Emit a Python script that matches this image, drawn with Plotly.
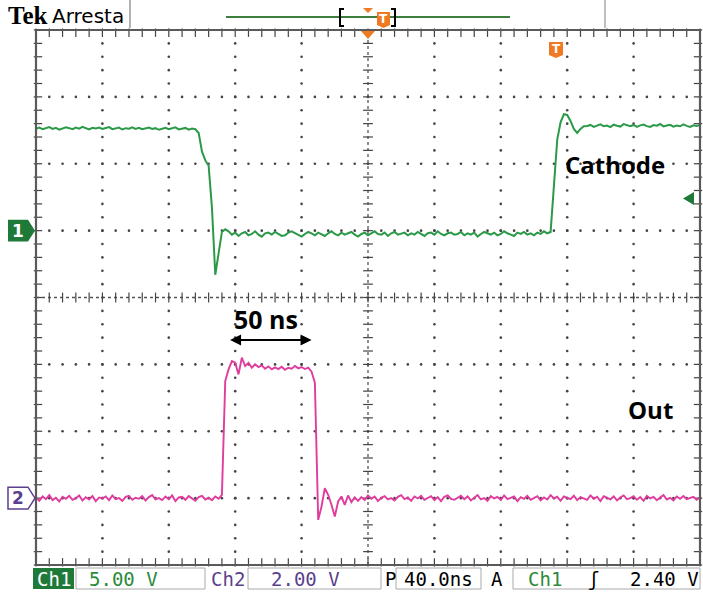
import plotly.graph_objects as go

# ---------------- acquisition settings ----------------
time_per_div_ns = 40.0
n_hdiv, n_vdiv = 10, 8
ch1_volts_per_div = 5.0
ch2_volts_per_div = 2.0
ch1_offset_div = 1.0
ch2_offset_div = -3.0
trigger_level_v = 2.40
sample_step_ns = 2.0
t_start_ns = -200.0

# ---------------- captured waveforms (volts) ----------------
# Ch1: cathode voltage
cathode_v = [
    7.62, 7.70, 7.58, 7.66, 7.74, 7.60, 7.68, 7.55, 7.64, 7.72,
    7.66, 7.58, 7.70, 7.62, 7.76, 7.64, 7.57, 7.69, 7.63, 7.71,
    7.60, 7.67, 7.74, 7.59, 7.65, 7.70, 7.56, 7.66, 7.62, 7.73,
    7.61, 7.68, 7.58, 7.64, 7.71, 7.60, 7.66, 7.54, 7.63, 7.69,
    7.58, 7.65, 7.72, 7.57, 7.62, 7.68, 7.55, 7.64, 7.58,
    7.30, 5.90, 5.25, 4.85, 1.70, -3.30, -1.60, -0.10, 0.10,
    -0.05, -0.30, -0.15, -0.40, -0.20, -0.10, -0.35, -0.25, -0.05, -0.30,
    -0.45, -0.20, -0.15, -0.30, -0.10, -0.25, -0.40, -0.35, -0.15, -0.05,
    -0.20, -0.30, -0.45, -0.25, -0.10, -0.20, -0.35, -0.15, -0.30, -0.40,
    -0.20, -0.05, -0.25, -0.35, -0.15, -0.30, -0.20, -0.10, -0.30, -0.45,
    -0.25, -0.15, -0.35, -0.20, -0.05, -0.25, -0.30, -0.15, -0.40, -0.20,
    -0.10, -0.30, -0.25, -0.15, -0.35, -0.20, -0.30, -0.10, -0.25, -0.40,
    -0.20, -0.15, -0.30, -0.05, -0.25, -0.35, -0.20, -0.15, -0.30, -0.25,
    -0.10, -0.35, -0.20, -0.30, -0.15, -0.45, -0.25, -0.10, -0.20, -0.30,
    -0.15, -0.35, -0.25, -0.05, -0.20, -0.30, -0.40, -0.15, -0.25, -0.10,
    -0.30, -0.20, -0.35, -0.15, -0.25, -0.05, -0.20, -0.10,
    3.40, 6.80, 8.10, 8.70, 8.65, 8.20, 7.60, 7.30, 7.60, 7.80,
    7.82, 7.90, 7.76, 7.88, 7.95, 7.80, 7.86, 7.74, 7.92, 7.84,
    7.78, 7.96, 7.85, 7.80, 7.90, 7.76, 7.87, 7.93, 7.81, 7.75,
    7.89, 7.84, 7.97, 7.79, 7.86, 7.91, 7.77, 7.85, 7.80, 7.94,
    7.83, 7.76, 7.88, 7.82, 7.90,
]

# Ch2: output pulse
out_v = [
    0.02, -0.08, 0.05, -0.03, 0.09, -0.06, 0.01, -0.10, 0.04, -0.02,
    0.07, -0.05, 0.00, 0.08, -0.07, 0.03, -0.04, 0.06, -0.09, 0.02,
    -0.01, 0.05, -0.06, 0.08, -0.03, 0.00, -0.08, 0.04, 0.07, -0.05,
    0.01, -0.02, 0.06, -0.07, 0.03, 0.09, -0.04, 0.00, -0.06, 0.05,
    -0.03, 0.08, -0.09, 0.02, 0.04, -0.05, 0.06, -0.01, -0.08, 0.03,
    0.07, -0.04, 0.01, -0.06, 0.05, -0.02,
    0.10, 3.50, 3.85, 4.10, 4.05, 3.70, 4.20, 3.95, 4.05, 3.90,
    4.00, 3.92, 3.97, 3.87, 3.94, 3.85, 3.91, 3.86, 3.93, 3.84,
    3.90, 3.87, 3.95, 3.88, 3.92, 3.86, 3.90, 3.78, 3.45, -0.65,
    -0.25, 0.30, 0.10, -0.20, -0.55, -0.10, 0.05, -0.20, 0.08, -0.12,
    0.02, -0.08,
    0.03, -0.06, 0.08, -0.02, 0.05, -0.09, 0.01, 0.06, -0.04, 0.00,
    -0.07, 0.04, 0.09, -0.03, 0.02, -0.08, 0.05, -0.01, 0.07, -0.05,
    0.00, 0.06, -0.06, 0.03, -0.09, 0.04, 0.08, -0.02, -0.05, 0.01,
    0.07, -0.03, 0.05, -0.07, 0.02, 0.09, -0.04, 0.00, -0.08, 0.06,
    -0.01, 0.04, -0.06, 0.08, -0.03, 0.01, 0.05, -0.09, 0.03, -0.02,
    0.07, -0.05, 0.00, 0.06, -0.07, 0.02, -0.04, 0.09, -0.01, 0.04,
    -0.08, 0.05, 0.01, -0.03, 0.07, -0.06, 0.03, 0.00, -0.05, 0.08,
    -0.02, 0.04, -0.09, 0.06, 0.01, -0.04, 0.05, -0.07, 0.02, 0.08,
    -0.03, 0.00, 0.06, -0.05, 0.03, -0.08, 0.07, -0.01, 0.04, -0.06,
    0.02, 0.09, -0.04, 0.01, -0.07, 0.05, -0.02, 0.06, -0.03, 0.00,
    0.04, -0.05, 0.02,
]

# annotation values
pulse_width_ns = 50.0
pulse_label_center_ns = -59.0
trace_labels = ["Cathode", "Out"]
status_texts = ["Ch1", "5.00 V", "Ch2", "2.00 V", "P", "40.0ns", "A", "Ch1", "ʃ", "2.40 V"]

assert len(cathode_v) == len(out_v)
t_ns = [t_start_ns + sample_step_ns * i for i in range(len(cathode_v))]

# ---------------- canvas geometry ----------------
W, H = 703, 594
L, R, T, B = 36, 3, 30, 29
PW, PH = W - L - R, H - T - B
x_half = n_hdiv / 2 * time_per_div_ns
y_half = n_vdiv / 2


def PX(px):
    return (px - L) / PW


def PY(py):
    return (H - B - py) / PH


def div_to_py(d):
    return T + (y_half - d) * PH / n_vdiv


def path(points):
    pts = ["%s%.5f,%.5f" % ("M" if i == 0 else "L", PX(x), PY(y)) for i, (x, y) in enumerate(points)]
    return " ".join(pts) + " Z"


GREEN = "#2b9a48"
DKGREEN = "#1f7a3a"
PINK = "#e03c9e"
PURPLE = "#5b3f8f"
ORANGE = "#f07a22"
GRID = "#444444"

fig = go.Figure()

# ---------------- graticule ----------------
minor_t = [-x_half + 8 * i for i in range(int(2 * x_half / 8) + 1)]
minor_d = [round(-y_half + 0.2 * i, 3) for i in range(int(2 * y_half / 0.2) + 1)]
major_t = [-x_half + time_per_div_ns * k for k in range(1, n_hdiv) if k != n_hdiv // 2]
major_d = [-y_half + k for k in range(1, n_vdiv) if k != n_vdiv // 2]

gx, gy = [], []
for xm in major_t:
    for d in minor_d:
        gx.append(xm); gy.append(d)
for dm in major_d:
    for tm in minor_t:
        gx.append(tm); gy.append(dm)
fig.add_trace(go.Scatter(x=gx, y=gy, mode="markers", hoverinfo="skip", cliponaxis=False,
                         marker=dict(size=2.6, color=GRID)))

# centre cross (dense dotted lines with minor ticks)
fig.add_trace(go.Scatter(x=[-x_half, x_half], y=[0, 0], mode="lines", hoverinfo="skip",
                         line=dict(color="#555", width=1.3, dash="dot")))
fig.add_trace(go.Scatter(x=[0, 0], y=[-y_half, y_half], mode="lines", hoverinfo="skip",
                         line=dict(color="#555", width=1.3, dash="dot")))
fig.add_trace(go.Scatter(x=minor_t, y=[0] * len(minor_t), mode="markers", hoverinfo="skip", cliponaxis=False,
                         marker=dict(symbol="line-ns", size=7, line=dict(width=1.2, color=GRID))))
fig.add_trace(go.Scatter(x=[0] * len(minor_d), y=minor_d, mode="markers", hoverinfo="skip", cliponaxis=False,
                         marker=dict(symbol="line-ew", size=7, line=dict(width=1.2, color=GRID))))

# border ticks pointing inward
bt = 0.04
bx = 1.2
fig.add_trace(go.Scatter(x=minor_t + minor_t, y=[y_half - bt] * len(minor_t) + [-y_half + bt] * len(minor_t),
                         mode="markers", hoverinfo="skip", cliponaxis=False,
                         marker=dict(symbol="line-ns", size=6, line=dict(width=1.2, color=GRID))))
fig.add_trace(go.Scatter(x=[-x_half + bx] * len(minor_d) + [x_half - bx] * len(minor_d), y=minor_d + minor_d,
                         mode="markers", hoverinfo="skip", cliponaxis=False,
                         marker=dict(symbol="line-ew", size=6, line=dict(width=1.2, color=GRID))))

# ---------------- waveforms ----------------
ch1_div = [ch1_offset_div + v / ch1_volts_per_div for v in cathode_v]
ch2_div = [ch2_offset_div + v / ch2_volts_per_div for v in out_v]
fig.add_trace(go.Scatter(x=t_ns, y=ch1_div, mode="lines", hoverinfo="skip",
                         line=dict(color=GREEN, width=2)))
fig.add_trace(go.Scatter(x=t_ns, y=ch2_div, mode="lines", hoverinfo="skip",
                         line=dict(color=PINK, width=1.9)))

shapes = []
ann = []

# border
shapes.append(dict(type="rect", xref="paper", yref="paper", x0=0, x1=1, y0=0, y1=1,
                   line=dict(color="#5a5a5a", width=2.2), layer="above"))


def text(s, px, py, size, color, family="DejaVu Sans", xanchor="center", bold=False):
    ann.append(dict(text=("<b>%s</b>" % s) if bold else s, x=PX(px), y=PY(py), xref="paper", yref="paper",
                    showarrow=False, xanchor=xanchor, yanchor="middle",
                    font=dict(size=size, color=color, family=family)))


def t_marker(x0, x1, y0, y1):
    shapes.append(dict(type="path", xref="paper", yref="paper", fillcolor=ORANGE, line=dict(width=0),
                       path=path([(x0, y0), (x1, y0), (x1, y1 - 3), ((x0 + x1) / 2, y1), (x0, y1 - 3)])))
    text("T", (x0 + x1) / 2, y0 + (y1 - y0) * 0.45, 12, "white", "DejaVu Sans", bold=True)


# channel ground markers
c1 = div_to_py(ch1_offset_div)
shapes.append(dict(type="path", xref="paper", yref="paper", fillcolor=DKGREEN, line=dict(width=0),
                   path=path([(8, c1 - 11), (28, c1 - 11), (35, c1), (28, c1 + 11), (8, c1 + 11)])))
text("1", 17.5, c1, 17, "white", "DejaVu Sans", bold=True)

c2 = div_to_py(ch2_offset_div)
shapes.append(dict(type="path", xref="paper", yref="paper", fillcolor="white", line=dict(width=1.5, color=PURPLE),
                   path=path([(8, c2 - 11), (28, c2 - 11), (35, c2), (28, c2 + 11), (8, c2 + 11)])))
text("2", 17.5, c2, 17, PURPLE, "DejaVu Sans", bold=True)

# trigger level marker on the right edge
cy = div_to_py(ch1_offset_div + trigger_level_v / ch1_volts_per_div)
shapes.append(dict(type="path", xref="paper", yref="paper", fillcolor=DKGREEN, line=dict(width=0),
                   path=path([(683, cy), (694, cy - 6.5), (694, cy + 6.5)])))

# trigger position marker on the top edge and T marker
shapes.append(dict(type="path", xref="paper", yref="paper", fillcolor=ORANGE, line=dict(width=0),
                   path=path([(361, 31), (375, 31), (368, 39)])))
t_marker(549, 563, 42, 58)

# ---------------- header ----------------
text("Tek", 6, 16, 25, "black", "Liberation Serif", xanchor="left", bold=True)
text("Arresta", 50, 16, 20, "black", "DejaVu Sans", xanchor="left")
shapes.append(dict(type="line", xref="paper", yref="paper", x0=PX(130), x1=PX(130), y0=PY(0), y1=PY(28),
                   line=dict(color="#999", width=1.5)))
shapes.append(dict(type="line", xref="paper", yref="paper", x0=PX(605), x1=PX(605), y0=PY(0), y1=PY(28),
                   line=dict(color="#aaa", width=1.5)))
shapes.append(dict(type="line", xref="paper", yref="paper", x0=PX(226), x1=PX(510), y0=PY(17), y1=PY(17),
                   line=dict(color="#3d7f3d", width=2)))
for bxp, dx in ((340, 4), (395, -4)):
    shapes.append(dict(type="path", xref="paper", yref="paper", line=dict(color="black", width=2),
                       path="M%.5f,%.5f L%.5f,%.5f L%.5f,%.5f L%.5f,%.5f" % (
                           PX(bxp + dx), PY(9), PX(bxp), PY(9), PX(bxp), PY(26), PX(bxp + dx), PY(26))))
shapes.append(dict(type="path", xref="paper", yref="paper", fillcolor=ORANGE, line=dict(width=0),
                   path=path([(363, 8), (373, 8), (368, 13)])))
t_marker(377, 390, 12, 28)

# ---------------- status bar ----------------
MONO = "DejaVu Sans Mono"
yb0, yb1 = 568, 589
ymid = (yb0 + yb1) / 2
shapes.append(dict(type="rect", xref="paper", yref="paper", x0=PX(33), x1=PX(74), y0=PY(yb1), y1=PY(yb0),
                   fillcolor=DKGREEN, line=dict(width=0)))
for x0, x1 in ((76, 205), (248, 381), (396, 481), (513, 700)):
    shapes.append(dict(type="rect", xref="paper", yref="paper", x0=PX(x0), x1=PX(x1), y0=PY(yb1), y1=PY(yb0),
                       fillcolor="white", line=dict(color="#aaa", width=1)))
status_pos = [53.5, 123, 228, 305, 390, 438, 497, 545, 593, 664]
status_col = ["white", "#2a8a3a", PURPLE, PURPLE, "black", "black", "black", "#2a8a3a", "black", "black"]
for s, xp, col in zip(status_texts, status_pos, status_col):
    text(s, xp, ymid, 19, col, MONO)

# ---------------- labels ----------------
text(trace_labels[0], 615, 164, 24, "black", "Open Sans", bold=True)
text(trace_labels[1], 650, 409, 24, "black", "Open Sans", bold=True)
text("%d ns" % pulse_width_ns, 266, 319, 25, "black", "Open Sans", bold=True)
arrow_d = (297.5 - 340) / (PH / n_vdiv)
ann.append(dict(x=pulse_label_center_ns + pulse_width_ns / 2, y=arrow_d,
                ax=pulse_label_center_ns - pulse_width_ns / 2, ay=arrow_d,
                xref="x", yref="y", axref="x", ayref="y", text="", showarrow=True,
                arrowhead=2, startarrowhead=2, arrowside="end+start", arrowsize=1.1, startarrowsize=1.1,
                arrowwidth=2, arrowcolor="black"))

fig.update_layout(
    width=W, height=H, margin=dict(l=L, r=R, t=T, b=B, pad=0),
    paper_bgcolor="white", plot_bgcolor="white", showlegend=False,
    xaxis=dict(range=[-x_half, x_half], visible=False, fixedrange=True),
    yaxis=dict(range=[-y_half, y_half], visible=False, fixedrange=True),
    shapes=shapes, annotations=ann,
)

fig.write_html("out.html")
